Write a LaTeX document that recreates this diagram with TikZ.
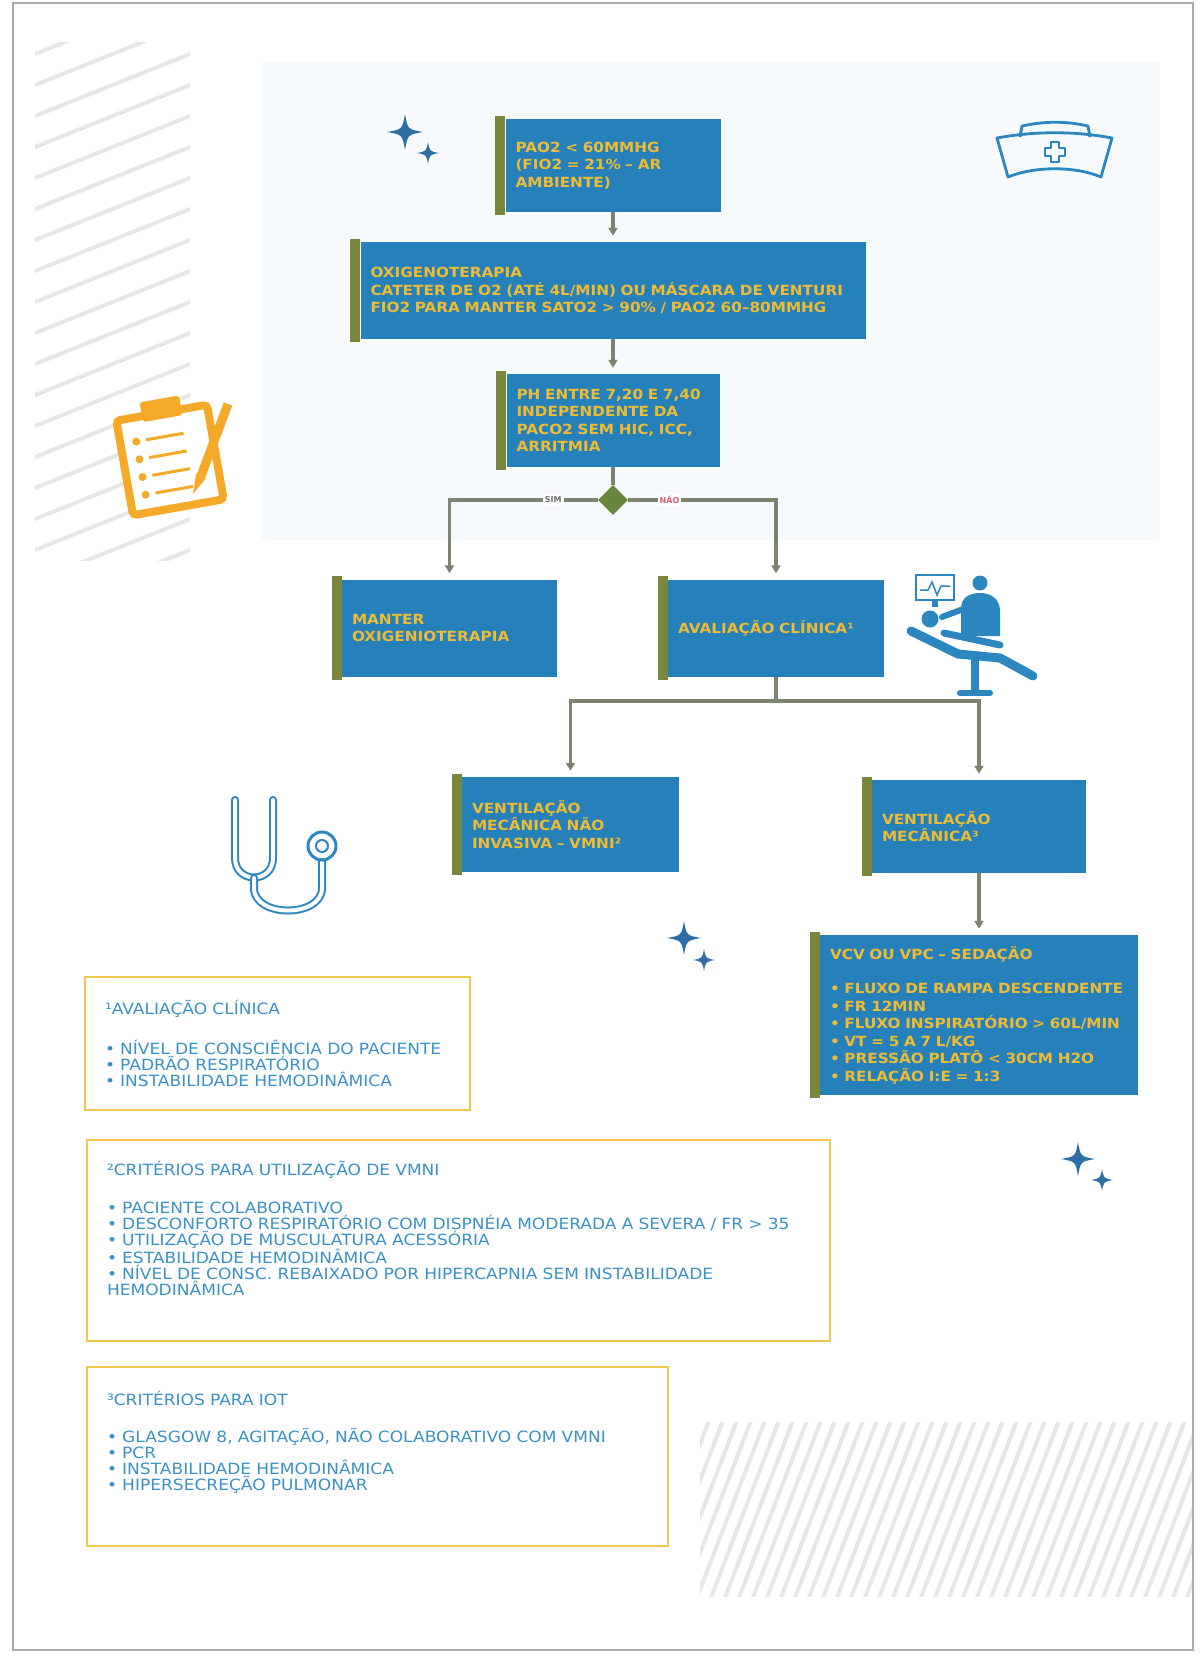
\documentclass[tikz,border=0pt]{standalone}
\usepackage{fontspec}
\setmainfont{DejaVu Sans}
\newfontfamily\flowfont{DejaVu Sans}[FakeStretch=1.09]
\newfontfamily\notefont{DejaVu Sans}[FakeStretch=1.10]
\usetikzlibrary{shapes.geometric,arrows.meta}

\definecolor{boxblue}{RGB}{38,128,186}
\definecolor{boxtext}{RGB}{238,188,52}
\definecolor{bargreen}{RGB}{122,134,62}
\definecolor{linegrey}{RGB}{124,132,112}
\definecolor{decgreen}{RGB}{104,135,60}
\definecolor{simgrey}{RGB}{110,110,110}
\definecolor{naopink}{RGB}{222,90,120}
\definecolor{notetextc}{RGB}{58,146,196}
\definecolor{noteframe}{RGB}{240,200,80}
\definecolor{iconblue}{RGB}{44,134,192}
\definecolor{starblue}{RGB}{45,110,165}
\definecolor{cliporange}{RGB}{244,170,40}
\definecolor{stripegrey}{RGB}{230,230,230}
\definecolor{panelblue}{RGB}{247,250,253}
\definecolor{framegrey}{RGB}{170,170,170}

\newcommand{\flowtext}{\flowfont\bfseries\fontsize{14}{17.5}\selectfont}
\newcommand{\notetext}{\notefont\fontsize{15.5}{16}\selectfont}

\tikzstyle{flowbox} = [rectangle, fill=boxblue, text=boxtext, font=\flowtext, align=left, inner xsep=0pt, inner ysep=2pt]
\tikzstyle{notebox} = [rectangle, draw=noteframe, line width=2.2pt, text=notetextc, font=\notetext, align=left, inner xsep=0pt, inner ysep=4pt]
\tikzstyle{decision} = [diamond, fill=decgreen, minimum width=30pt, minimum height=30pt, inner sep=0pt]
\tikzstyle{flowline} = [draw=linegrey, line width=3.5pt]
\tikzstyle{arrowdecorate} = [flowline, ->, >={Triangle[length=8pt,width=9pt]}, shorten >=6pt]
\tikzstyle{branchlabel} = [fill=white, font=\fontsize{8}{9}\selectfont\bfseries, inner sep=2pt]
\tikzstyle{stripe} = [draw=stripegrey, line width=4pt]
\tikzstyle{capline} = [draw=iconblue, line width=2.8pt, line join=round]
\tikzstyle{tube} = [draw=iconblue, line width=2pt, double=white, double distance=4pt, line cap=round]

\begin{document}
\begin{tikzpicture}[x=1pt, y=-1pt]
  \useasboundingbox (0,0) rectangle (1201,1658);

  %% page frame and tinted panel
  \fill[panelblue] (262,62) rectangle (1160,540);
  \draw[framegrey, line width=2pt] (13,3) rectangle (1193,1650);

  %% hatched corners
  \begin{scope}
    \clip (35,42) rectangle (190,560);
    \foreach \k in {0,...,18}
      \draw[stripe] (20,60+31*\k) -- (200,-12+31*\k);
  \end{scope}
  \begin{scope}
    \clip (700,1422) rectangle (1192,1596);
    \foreach \k in {0,...,40}
      \draw[stripe] (640+14*\k,1600) -- (710+14*\k,1418);
  \end{scope}

  %% sparkles
  \foreach \sx/\sy/\sr in {405/132/18, 428/153/11, 684/938/17, 704/960/11, 1078/1159/17, 1102/1180/11}
    \fill[starblue] (\sx,\sy-\sr) .. controls (\sx+0.15*\sr,\sy-0.15*\sr) .. (\sx+\sr,\sy)
      .. controls (\sx+0.15*\sr,\sy+0.15*\sr) .. (\sx,\sy+\sr)
      .. controls (\sx-0.15*\sr,\sy+0.15*\sr) .. (\sx-\sr,\sy)
      .. controls (\sx-0.15*\sr,\sy-0.15*\sr) .. (\sx,\sy-\sr) -- cycle;

  %% nodes or boxes
  \foreach \nodename/\x/\y/\w/\h/\txt in {
    pao2/613/165.5/215/93/{PAO2 < 60MMHG\\(FIO2 = 21\% – AR\\AMBIENTE)},
    oxig/613/290.5/505/97/{OXIGENOTERAPIA\\CATETER DE O2 (ATÉ 4L/MIN) OU MÁSCARA DE VENTURI\\FIO2 PARA MANTER SATO2 > 90\% / PAO2 60–80MMHG},
    ph/613/420.5/213/93/{PH ENTRE 7,20 E 7,40\\INDEPENDENTE DA\\PACO2 SEM HIC, ICC,\\ARRITMIA},
    manter/449.5/628/215/97/{MANTER\\OXIGENIOTERAPIA},
    aval/776/628/216/97/{AVALIAÇÃO CLÍNICA¹},
    vmni/570.5/824.5/217/95/{VENTILAÇÃO\\MECÂNICA NÃO\\INVASIVA – VMNI²},
    vm/979/826.5/214/93/{VENTILAÇÃO\\MECÂNICA³},
    vcv/979/1015/318/160/{VCV OU VPC – SEDAÇÃO\\[17pt]• FLUXO DE RAMPA DESCENDENTE\\• FR 12MIN\\• FLUXO INSPIRATÓRIO > 60L/MIN\\• VT = 5 A 7 L/KG\\• PRESSÃO PLATÔ < 30CM H2O\\• RELAÇÃO I:E = 1:3}}
  {
    \node[flowbox, minimum width=\w pt, minimum height=\h pt, text width={(\w-20)*1pt}] (\nodename) at (\x,\y) {\txt};
    \fill[bargreen] ([xshift=-10pt,yshift=3pt]\nodename.north west) rectangle ([yshift=-3pt]\nodename.south west);
  }
  \node[decision] (dec) at (613,500) {};

  % edges or lines
  \draw[arrowdecorate] (pao2) -- (oxig);
  \draw[arrowdecorate] (oxig) -- (ph);
  \draw[flowline] (ph) -- (dec);
  \draw[arrowdecorate] (dec) -| node[branchlabel, text=simgrey, pos=0.15] {SIM} (manter);
  \draw[arrowdecorate] (dec) -| node[branchlabel, text=naopink, pos=0.14] {NÃO} (aval);
  \coordinate (split) at (776,701);
  \draw[flowline] (aval) -- (split);
  \draw[arrowdecorate] (split) -| (vmni);
  \draw[arrowdecorate] (split) -| (vm);
  \draw[arrowdecorate] (vm) -- (vcv);

  %% footnotes
  \foreach \nodename/\x/\y/\w/\h/\txt in {
    avalnote/277.5/1043.5/385/133/{¹AVALIAÇÃO CLÍNICA\\[21pt]• NÍVEL DE CONSCIÊNCIA DO PACIENTE\\• PADRÃO RESPIRATÓRIO\\• INSTABILIDADE HEMODINÂMICA},
    vmninote/458.5/1240.5/743/201/{²CRITÉRIOS PARA UTILIZAÇÃO DE VMNI\\[22pt]• PACIENTE COLABORATIVO\\• DESCONFORTO RESPIRATÓRIO COM DISPNÉIA MODERADA A SEVERA / FR > 35\\• UTILIZAÇÃO DE MUSCULATURA ACESSÓRIA\\• ESTABILIDADE HEMODINÂMICA\\• NÍVEL DE CONSC. REBAIXADO POR HIPERCAPNIA SEM INSTABILIDADE\\HEMODINÂMICA\\[9pt]\mbox{}},
    iotnote/377.5/1456.5/581/179/{³CRITÉRIOS PARA IOT\\[21pt]• GLASGOW 8, AGITAÇÃO, NÃO COLABORATIVO COM VMNI\\• PCR\\• INSTABILIDADE HEMODINÂMICA\\• HIPERSECREÇÃO PULMONAR\\[15pt]\mbox{}}}
  {
    \node[notebox, minimum width=\w pt, minimum height=\h pt, text width={(\w-40)*1pt}] (\nodename) at (\x,\y) {\txt};
  }

  %% nurse cap
  \draw[capline] (1020,137) -- (1022,126) .. controls (1045,121) and (1066,121) .. (1088,126) -- (1090,137);
  \draw[capline] (997,138) .. controls (1035,131) and (1075,131) .. (1112,138) -- (1101,177)
    .. controls (1075,166) and (1035,166) .. (1008,177) -- cycle;
  \draw[capline] (1051,142) -- (1059,142) -- (1059,148) -- (1065,148) -- (1065,156) -- (1059,156)
    -- (1059,162) -- (1051,162) -- (1051,156) -- (1045,156) -- (1045,148) -- (1051,148) -- cycle;

  %% clipboard with pen
  \begin{scope}[rotate around={10:(170,460)}]
    \draw[cliporange, line width=8pt, fill=white, rounded corners=4pt] (124,412) rectangle (216,508);
    \fill[cliporange, rounded corners=3pt] (150,398) rectangle (190,418);
    \foreach \ry in {436,454,472,490} {
      \fill[cliporange] (140,\ry) circle (4);
      \draw[cliporange, line width=3pt] (150,\ry) -- (188,\ry);
    }
  \end{scope}
  \draw[cliporange, line width=9pt] (228,404) -- (201,476);
  \fill[cliporange] (196,474) -- (206,478) -- (193,494) -- cycle;

  %% doctor and patient
  \draw[iconblue, line width=2.5pt] (916,575) rectangle (954,600);
  \draw[iconblue, line width=1.5pt] (920,590) -- (928,590) -- (932,582) -- (937,595) -- (941,586) -- (950,586);
  \fill[iconblue] (932,600) rectangle (938,607);
  \fill[iconblue] (980,583) circle (7.5);
  \fill[iconblue] (961,636) -- (961,609) .. controls (961,597) and (970,593) .. (980,593)
    .. controls (991,593) and (1000,599) .. (1000,611) -- (1000,636) -- cycle;
  \draw[iconblue, line width=6pt, line cap=round] (966,608) -- (942,617);
  \fill[iconblue] (930,619) circle (8.5);
  \draw[iconblue, line width=7pt, line cap=round] (944,633) -- (1000,645);
  \draw[white, line width=2pt] (940,640) -- (1004,652);
  \draw[iconblue, line width=9pt, line cap=round, line join=round] (911,631) -- (958,654) -- (1000,658) -- (1033,676);
  \draw[iconblue, line width=8pt] (975,660) -- (975,690);
  \draw[iconblue, line width=6pt, line cap=round] (960,693) -- (990,693);

  %% stethoscope
  \draw[tube] (235,800) -- (235,858) .. controls (235,884) and (273,884) .. (273,858) -- (273,800);
  \draw[tube] (254,878) -- (254,888) .. controls (254,918) and (322,918) .. (322,888) -- (322,862);
  \draw[iconblue, line width=3pt] (322,846) circle (14);
  \draw[iconblue, line width=2pt] (322,846) circle (6);
\end{tikzpicture}
\end{document}
